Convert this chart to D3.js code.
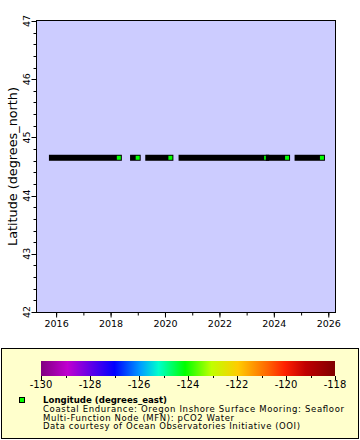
<!DOCTYPE html>
<html><head><meta charset="utf-8">
<script src="https://cdn.jsdelivr.net/npm/d3@7"></script>
<style>body{margin:0;background:#fff;}svg{display:block;font-family:"DejaVu Sans",sans-serif;}</style>
</head><body>
<svg id="c" width="360" height="440"></svg>
<script>
// Data: continuous deployment segments (time ranges) at a fixed latitude
const segStarts = ["2015-10-30","2018-10-23","2019-05-15","2020-08-04","2023-10-19","2024-11-08"];
const segEnds   = ["2018-04-15","2018-12-24","2020-03-07","2023-09-13","2024-06-20","2025-10-01"];
const latitude = 44.65;
const longitudeValue = -124.1;
const xTickYears = [2016,2018,2020,2022,2024,2026];
const yTicks = [42,43,44,45,46,47];
const cbTicks = [-130,-128,-126,-124,-122,-120,-118];
const legendLines = ["Coastal Endurance: Oregon Inshore Surface Mooring: Seafloor","Multi-Function Node (MFN): pCO2 Water","Data courtesy of Ocean Observatories Initiative (OOI)"];
const legendTitle = "Longitude (degrees_east)";
const yTitle = "Latitude (degrees_north)";

const svg = d3.select("#c");
const L=36.5, R=335.5, T=20.5, B=312.5;
const x = d3.scaleUtc().domain([new Date(Date.UTC(2015,3,6)), new Date(Date.UTC(2026,3,1))]).range([L,R]);
const y = d3.scaleLinear().domain([42,47]).range([312,21]);

svg.append("rect").attr("x",L).attr("y",T).attr("width",R-L).attr("height",B-T).attr("fill","#ccccff").attr("stroke","#000");

// x axis
const xg = svg.append("g").attr("transform",`translate(0,${B})`);
const minorYears = d3.range(2016,2027).map(v=>new Date(Date.UTC(v,0,1)));
xg.selectAll("line.mi").data(minorYears).join("line").attr("x1",d=>x(d)).attr("x2",d=>x(d)).attr("y1",0).attr("y2",3).attr("stroke","#000");
const xMaj = xTickYears.map(v=>new Date(Date.UTC(v,0,1)));
xg.selectAll("line.ma").data(xMaj).join("line").attr("x1",d=>x(d)).attr("x2",d=>x(d)).attr("y1",0).attr("y2",5).attr("stroke","#000");
xg.selectAll("text").data(xMaj).join("text").attr("x",d=>x(d)).attr("y",14.5).attr("text-anchor","middle").attr("font-size",9.5).text(d=>d3.utcFormat("%Y")(d));

// y axis
const yg = svg.append("g").attr("transform",`translate(${L},0)`);
const yMinor = d3.range(42,47.001,0.2);
yg.selectAll("line.mi").data(yMinor).join("line").attr("x1",-3).attr("x2",0).attr("y1",d=>Math.round(y(d))+0.5).attr("y2",d=>Math.round(y(d))+0.5).attr("stroke","#000");
yg.selectAll("line.ma").data(yTicks).join("line").attr("x1",-5).attr("x2",0).attr("y1",d=>Math.round(y(d))+0.5).attr("y2",d=>Math.round(y(d))+0.5).attr("stroke","#000");
yg.selectAll("text").data(yTicks).join("text").attr("transform",d=>`translate(-7,${y(d)}) rotate(-90)`).attr("text-anchor","middle").attr("font-size",9.5).text(d=>d);
svg.append("text").attr("transform",`translate(17,${(T+B)/2}) rotate(-90)`).attr("text-anchor","middle").attr("font-size",12.8).text(yTitle);

// color scale
const cStops = ["#800080","#c000d0","#0000ff","#00a0ff","#00ffcc","#00ff00","#c0ff00","#ffcc00","#ff6600","#ff2000","#c00000","#800000"];
const cPos = [0,0.09,0.25,0.34,0.40,0.49,0.58,0.67,0.77,0.83,0.90,1];
const color = d3.scaleLinear().domain(cPos.map(p=>-130+12*p)).range(cStops);

// data segments
const segs = segStarts.map((s,i)=>({s:new Date(s+"T00:00:00Z"), e:new Date(segEnds[i]+"T00:00:00Z")}));
const yc = y(latitude);
const gd = svg.append("g");
segs.forEach(d=>{
  gd.append("rect").attr("x",x(d.s)-3).attr("y",yc-3).attr("width",x(d.e)-x(d.s)+6).attr("height",6).attr("fill","#000");
  gd.append("rect").attr("x",x(d.e)-2).attr("y",yc-2).attr("width",4).attr("height",4).attr("fill",color(longitudeValue));
});

// legend
svg.append("rect").attr("x",1.5).attr("y",348.5).attr("width",357).attr("height",90).attr("fill","#ffffcc").attr("stroke","#000");
const defs = svg.append("defs");
const grad = defs.append("linearGradient").attr("id","cb");
cPos.forEach((p,i)=>grad.append("stop").attr("offset",p).attr("stop-color",cStops[i]));
const cx = d3.scaleLinear().domain([-130,-118]).range([41,335]);
svg.append("rect").attr("x",41).attr("y",361).attr("width",294).attr("height",15).attr("fill","url(#cb)");
const cg = svg.append("g").attr("transform","translate(0,376)");
cg.selectAll("line.mi").data(d3.range(-129,-118,2)).join("line").attr("x1",d=>Math.round(cx(d))+0.5).attr("x2",d=>Math.round(cx(d))+0.5).attr("y1",0).attr("y2",2).attr("stroke","#000");
cg.selectAll("line.ma").data(cbTicks).join("line").attr("x1",d=>Math.round(cx(d))+0.5).attr("x2",d=>Math.round(cx(d))+0.5).attr("y1",0).attr("y2",4).attr("stroke","#000");
cg.selectAll("text").data(cbTicks).join("text").attr("x",d=>cx(d)).attr("y",12).attr("text-anchor","middle").attr("font-size",10).text(d=>d);

svg.append("rect").attr("x",19.5).attr("y",397.5).attr("width",5).attr("height",5).attr("fill",color(longitudeValue)).attr("stroke","#000");
const titleW = 124, lineW = [301,191,257];
svg.append("text").attr("x",43).attr("y",403).attr("font-size",8.6).attr("font-weight","bold")
  .attr("textLength",titleW).attr("lengthAdjust","spacing").text(legendTitle);
svg.selectAll("text.ll").data(legendLines).join("text").attr("class","ll").attr("x",43).attr("y",(d,i)=>411.8+i*8.7)
  .attr("font-size",8.5).attr("textLength",(d,i)=>lineW[i]).attr("lengthAdjust","spacing").text(d=>d);
</script>
</body></html>
